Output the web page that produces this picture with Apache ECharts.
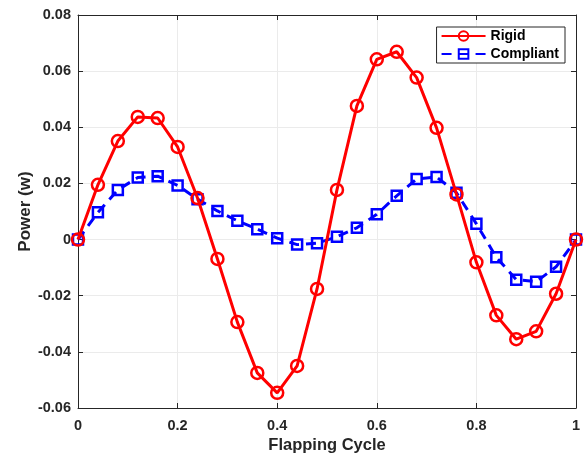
<!DOCTYPE html>
<html><head><meta charset="utf-8">
<script src="https://cdn.jsdelivr.net/npm/echarts@6/dist/echarts.min.js"></script>
<style>html,body{margin:0;padding:0;background:#fff}#c{width:586px;height:455px}</style>
</head><body><div id="c"></div>
<script>
var xValues = [0,0.04,0.08,0.12,0.16,0.20,0.24,0.28,0.32,0.36,0.40,0.44,0.48,0.52,0.56,0.60,0.64,0.68,0.72,0.76,0.80,0.84,0.88,0.92,0.96,1.0];
var rigid = [0,0.0195,0.0351,0.0437,0.0433,0.0330,0.0148,-0.0069,-0.0294,-0.0475,-0.0546,-0.0450,-0.0176,0.0177,0.0476,0.0642,0.0669,0.0577,0.0398,0.0161,-0.0081,-0.0270,-0.0355,-0.0327,-0.0193,0];
var compliant = [0,0.0097,0.0177,0.0221,0.0226,0.0193,0.0144,0.0102,0.0067,0.0037,0.0005,-0.0018,-0.0013,0.0010,0.0042,0.0090,0.0156,0.0216,0.0223,0.0167,0.0056,-0.0063,-0.0143,-0.0150,-0.0097,0];
var seriesNames = ['Rigid','Compliant'];
var xTitle = 'Flapping Cycle';
var yTitle = 'Power (w)';

function pairs(ys){ return xValues.map(function(x,i){ return [x, ys[i]]; }); }
var axisColor = '#262626';
var gridColor = '#ebebeb';
var font = 'Liberation Sans, Arial, Helvetica, sans-serif';
var chart = echarts.init(document.getElementById('c'), null, {renderer:'canvas'});
chart.setOption({
  animation:false,
  backgroundColor:'#fff',
  grid:{left:78,right:10,top:15,bottom:47,containLabel:false,outerBoundsMode:'none'},
  legend:{
    orient:'vertical', right:21, top:27, data:seriesNames,
    itemWidth:44, itemHeight:12, itemGap:4,
    padding:[2,6,2,4],
    borderColor:axisColor, borderWidth:1, backgroundColor:'#fff',
    textStyle:{fontFamily:font, fontWeight:'bold', fontSize:14, color:'#000'}
  },
  xAxis:[{
    type:'value', min:0, max:1, interval:0.2,
    name:xTitle, nameLocation:'middle', nameGap:29, nameMoveOverlap:false,
    nameTextStyle:{fontFamily:font, fontWeight:'bold', fontSize:16.5, color:axisColor},
    axisLine:{show:true, onZero:false, lineStyle:{color:axisColor, width:1}},
    axisTick:{show:true, inside:true, length:5, lineStyle:{color:axisColor}},
    axisLabel:{fontFamily:font, fontWeight:'bold', fontSize:14.5, color:axisColor, margin:10,
      formatter:function(v){ return (v===0||v===1)? String(v) : v.toFixed(1); }},
    splitLine:{show:true, lineStyle:{color:gridColor, width:1}}
  },{
    type:'value', min:0, max:1, interval:0.2, position:'top',
    axisLine:{show:true, onZero:false, lineStyle:{color:axisColor, width:1}},
    axisTick:{show:true, inside:true, length:5, lineStyle:{color:axisColor}},
    axisLabel:{show:false}, splitLine:{show:false}
  }],
  yAxis:[{
    type:'value', min:-0.06, max:0.08, interval:0.02,
    name:yTitle, nameLocation:'middle', nameGap:44, nameRotate:90, nameMoveOverlap:false,
    nameTextStyle:{fontFamily:font, fontWeight:'bold', fontSize:17, color:axisColor},
    axisLine:{show:true, onZero:false, lineStyle:{color:axisColor, width:1}},
    axisTick:{show:true, inside:true, length:5, lineStyle:{color:axisColor}},
    axisLabel:{fontFamily:font, fontWeight:'bold', fontSize:14.5, color:axisColor, margin:7,
      formatter:function(v){ return Math.abs(v)<1e-9 ? '0' : v.toFixed(2); }},
    splitLine:{show:true, lineStyle:{color:gridColor, width:1}}
  },{
    type:'value', min:-0.06, max:0.08, interval:0.02, position:'right',
    axisLine:{show:true, onZero:false, lineStyle:{color:axisColor, width:1}},
    axisTick:{show:true, inside:true, length:5, lineStyle:{color:axisColor}},
    axisLabel:{show:false}, splitLine:{show:false}
  }],
  series:[{
    name:seriesNames[0], type:'line', data:pairs(rigid),
    symbol:'circle', symbolSize:12,
    lineStyle:{color:'#ff0000', width:3},
    itemStyle:{color:'rgba(255,255,255,0)', borderColor:'#ff0000', borderWidth:2.5},
    z:3
  },{
    name:seriesNames[1], type:'line', data:pairs(compliant),
    symbol:'rect', symbolSize:10,
    lineStyle:{color:'#0000ff', width:3, type:[10,7]},
    itemStyle:{color:'rgba(255,255,255,0)', borderColor:'#0000ff', borderWidth:2.5},
    z:2
  }]
});
</script></body></html>
